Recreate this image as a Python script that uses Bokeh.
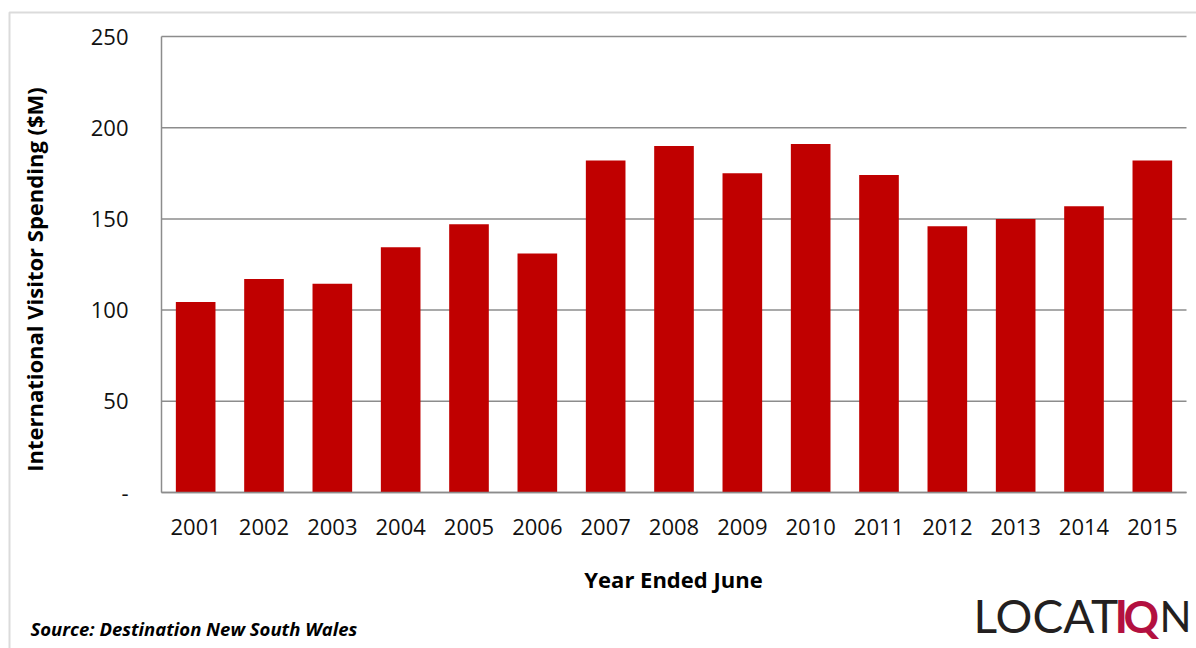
import math

from bokeh.plotting import figure
from bokeh.models import (Range1d, FixedTicker, Label, BoxAnnotation,
                          ColumnDataSource, LinearAxis)
from bokeh.embed import file_html
from bokeh.resources import INLINE

# International visitor spending by year ended June ($M)
years = ["2001", "2002", "2003", "2004", "2005", "2006", "2007", "2008",
         "2009", "2010", "2011", "2012", "2013", "2014", "2015"]
spending = [104.5, 117, 114.5, 134.5, 147, 131, 182, 190,
            175, 191, 174, 146, 150, 157, 182]

y_ticks = [0, 50, 100, 150, 200, 250]
y_tick_labels = ["-", "50", "100", "150", "200", "250"]

FONT = "Open Sans"
GREY = "#8c8c8c"
BAR_RED = "#C00000"

W, H = 1196, 648
# plot area inside the canvas (pixels from the top-left corner)
PL, PR, PT, PB = 161, 1186, 36, 492

n = len(years)
positions = list(range(1, n + 1))
y_max = y_ticks[-1]

# the frame fills the whole canvas; ranges are chosen so that the plot
# area maps onto the pixel box above
ppx = (PR - PL) / n
ppy = (PB - PT) / y_max
x_range = Range1d(0.5 - PL / ppx, n + 0.5 + (W - PR) / ppx)
y_range = Range1d(-(H - PB) / ppy, y_max + PT / ppy)

p = figure(
    width=W, height=H, x_range=x_range, y_range=y_range,
    x_axis_location=None, y_axis_location=None,
    output_backend="svg", toolbar_location=None,
    min_border=0,
)
p.outline_line_color = None
p.background_fill_color = "white"
p.border_fill_color = "white"
p.xgrid.visible = False
p.ygrid.visible = False

# horizontal gridlines across the plot area
p.segment(x0=[0.5] * len(y_ticks), x1=[n + 0.5] * len(y_ticks),
          y0=y_ticks, y1=y_ticks, line_color=GREY, line_width=1.5)

src = ColumnDataSource(dict(x=positions, value=spending))
p.vbar(x="x", top="value", width=0.58, source=src,
       fill_color=BAR_RED, line_color=None)

# y axis pinned to the left edge of the plot area
yaxis = LinearAxis(fixed_location=0.5, bounds=(0, y_max))
yaxis.ticker = FixedTicker(ticks=y_ticks)
yaxis.major_label_overrides = {t: s for t, s in zip(y_ticks, y_tick_labels)}
yaxis.major_tick_line_color = None
yaxis.minor_tick_line_color = None
yaxis.major_label_standoff = 27
yaxis.axis_line_color = GREY
yaxis.axis_line_width = 1.5
yaxis.major_label_text_font = FONT
yaxis.major_label_text_font_size = "22px"
yaxis.major_label_text_color = "#111111"
p.add_layout(yaxis, "left")

# x axis pinned to zero
xaxis = LinearAxis(fixed_location=0, bounds=(0.5, n + 0.5))
xaxis.ticker = FixedTicker(ticks=positions)
xaxis.major_label_overrides = {pos: yr for pos, yr in zip(positions, years)}
xaxis.major_tick_line_color = None
xaxis.minor_tick_line_color = None
xaxis.major_label_standoff = 20
xaxis.axis_line_color = GREY
xaxis.axis_line_width = 1.5
xaxis.major_label_text_font = FONT
xaxis.major_label_text_font_size = "22px"
xaxis.major_label_text_color = "#111111"
p.add_layout(xaxis, "below")


def sy(y):
    # screen units are measured upward from the bottom of the frame
    return H - y


# outer chart border (top and left edges)
p.add_layout(BoxAnnotation(
    left=9, right=W + 50, top=sy(12), bottom=-50,
    left_units="screen", right_units="screen",
    top_units="screen", bottom_units="screen",
    fill_alpha=0, line_color="#878787", line_width=2,
))

p.add_layout(Label(
    x=33, y=sy(279), x_units="screen", y_units="screen",
    text="International Visitor Spending ($M)", angle=math.pi / 2,
    text_align="center", text_baseline="middle",
    text_font=FONT, text_font_style="bold", text_font_size="22px",
    text_color="#000000",
))

p.add_layout(Label(
    x=673, y=sy(578), x_units="screen", y_units="screen",
    text="Year Ended June",
    text_align="center", text_baseline="middle",
    text_font=FONT, text_font_style="bold", text_font_size="22px",
    text_color="#000000",
))

p.add_layout(Label(
    x=30, y=sy(628), x_units="screen", y_units="screen",
    text="Source: Destination New South Wales",
    text_align="left", text_baseline="middle",
    text_font=FONT, text_font_style="bold italic", text_font_size="18.5px",
    text_color="#000000",
))

# logo
LOGO_DARK = "#231f20"
LOGO_RED = "#b31040"
LOGO_BASE = sy(615)
for text, x0, colour, style, size in [("LOCAT", 973, LOGO_DARK, "normal", "46px"),
                                      ("I", 1114, LOGO_RED, "bold", "46px"),
                                      ("Q", 1123, LOGO_RED, "bold", "44px"),
                                      ("N", 1159, LOGO_DARK, "normal", "42px")]:
    p.add_layout(Label(
        x=x0, y=LOGO_BASE, x_units="screen", y_units="screen",
        text=text, text_align="left", text_baseline="alphabetic",
        text_font="Lato", text_font_style=style, text_font_size=size,
        text_color=colour,
    ))

open("out.html", "w").write(file_html(p, INLINE))
